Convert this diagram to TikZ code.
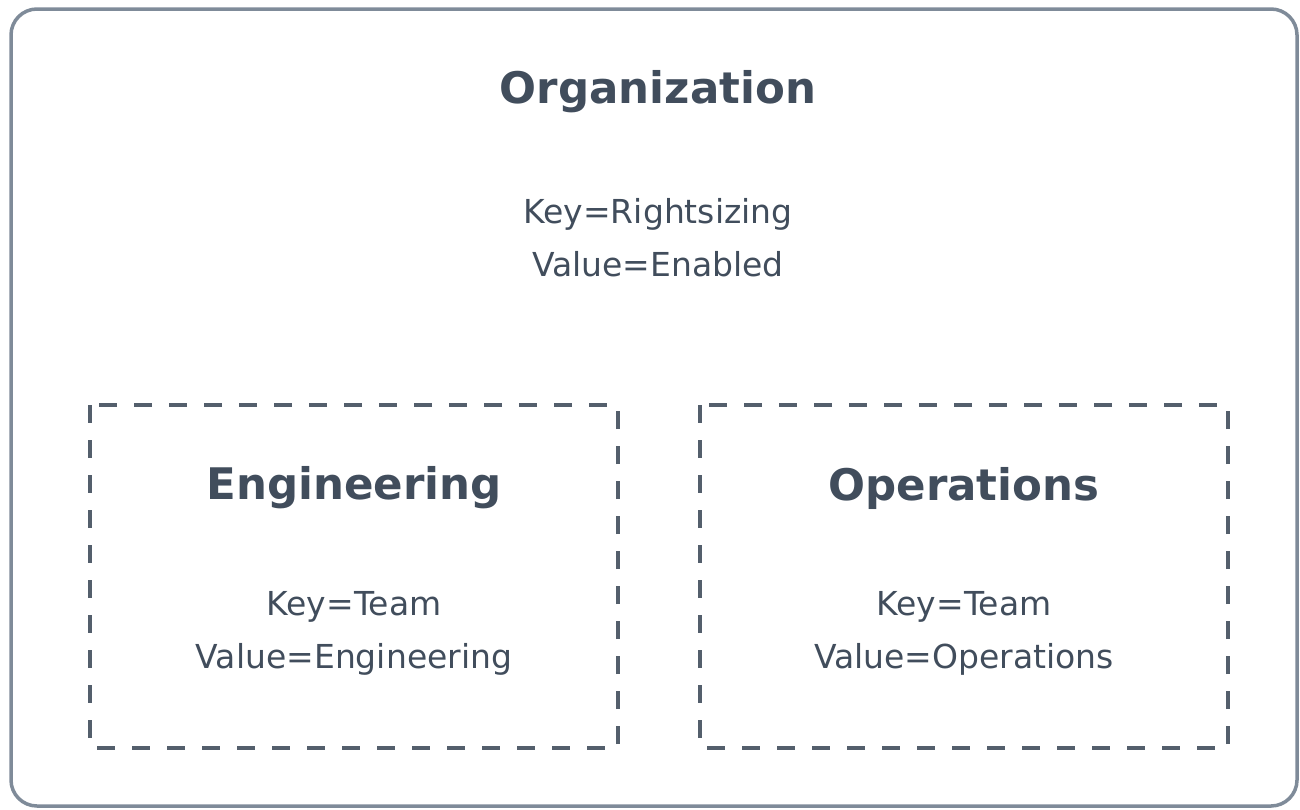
\documentclass[tikz,border=0pt]{standalone}
\usepackage{fontspec}
\setmainfont{DejaVu Sans}
\definecolor{inkgray}{HTML}{414D5C}
\definecolor{framegray}{HTML}{7F8B99}
\tikzset{
  title/.style={text=inkgray, font=\fontsize{43.5}{52}\bfseries\selectfont, inner sep=0pt},
  tagtext/.style={text=inkgray, font=\fontsize{33}{53}\selectfont, align=center, inner sep=0pt},
  ouline/.style={draw=inkgray!90!white, line width=4pt, dash pattern=on 18pt off 17pt}
}
\begin{document}
\begin{tikzpicture}[x=1pt,y=-1pt]
  \useasboundingbox (0,0) rectangle (1300,809);
  \draw[framegray, line width=3.5pt, rounded corners=26pt] (11,9) rectangle (1297,806);
  \node[title] (org) at (658,92) {Organization};
  \node[tagtext] (orgtag) at (658,238) {Key=Rightsizing\\Value=Enabled};
  \draw[ouline] (90,405) rectangle (618,748);
  \draw[ouline] (700,405) rectangle (1228,748);
  \node[title] (eng) at (354,488) {Engineering};
  \node[tagtext] (engtag) at (354,633) {Key=Team\\Value=Engineering};
  \node[title] (ops) at (964,488) {Operations};
  \node[tagtext] (opstag) at (964,633) {Key=Team\\Value=Operations};
\end{tikzpicture}
\end{document}
